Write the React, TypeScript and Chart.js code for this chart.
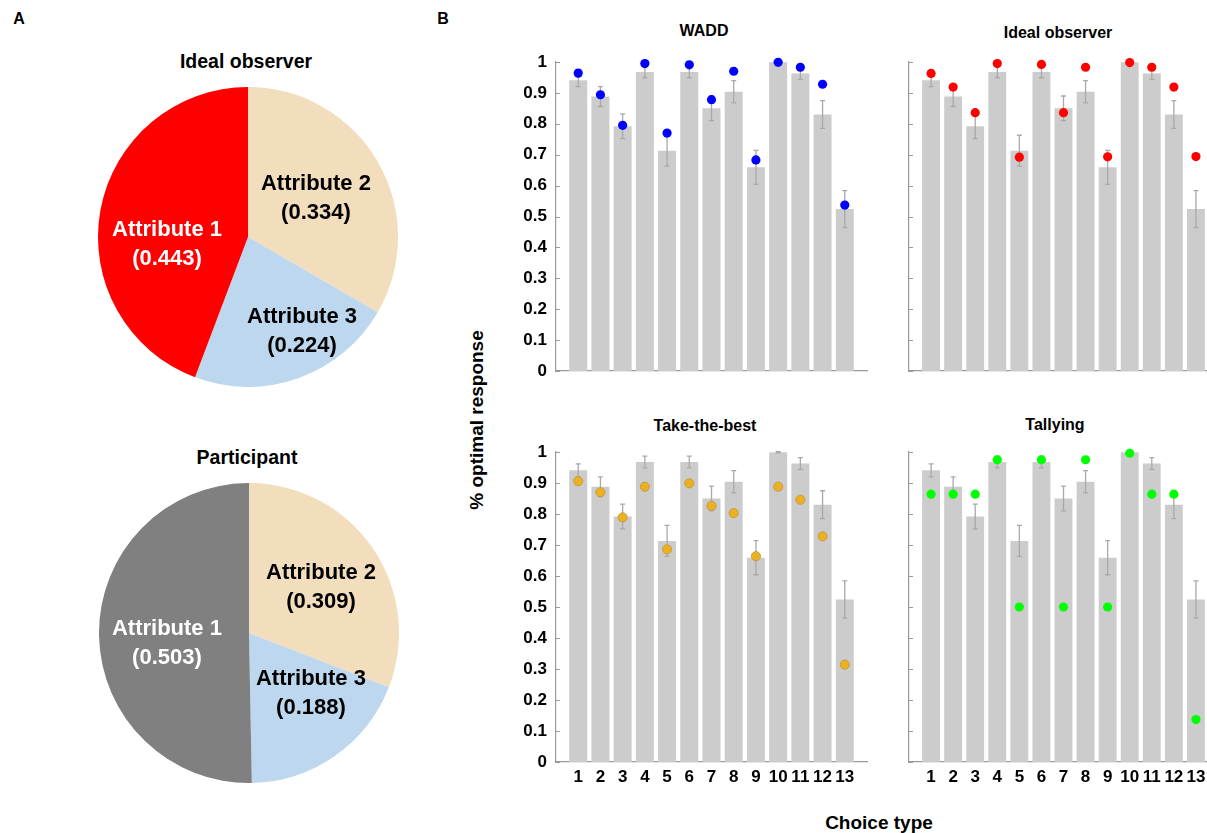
import React, { useEffect, useRef } from 'react';
import { Chart, registerables } from 'chart.js';

Chart.register(...registerables);

const FONT = "'Liberation Sans', Arial, Helvetica, sans-serif";
Chart.defaults.font.family = FONT;

// ---------- data ----------
const CHOICE_TYPES = [1, 2, 3, 4, 5, 6, 7, 8, 9, 10, 11, 12, 13];
const PARTICIPANT_MEAN = [0.941, 0.888, 0.792, 0.968, 0.713, 0.968, 0.85, 0.904, 0.659, 0.999, 0.963, 0.83, 0.524];
const PARTICIPANT_ERR = [0.021, 0.032, 0.04, 0.019, 0.05, 0.019, 0.04, 0.036, 0.055, 0.002, 0.019, 0.045, 0.06];

const WADD = [0.964, 0.894, 0.795, 0.995, 0.77, 0.991, 0.878, 0.97, 0.683, 0.999, 0.983, 0.928, 0.537];
const IDEAL_OBSERVER = [0.963, 0.919, 0.836, 0.995, 0.692, 0.992, 0.836, 0.983, 0.693, 0.998, 0.983, 0.919, 0.694];
const TAKE_THE_BEST = [0.906, 0.87, 0.789, 0.888, 0.686, 0.899, 0.826, 0.803, 0.664, 0.888, 0.846, 0.728, 0.314];
const TALLYING = [0.864, 0.864, 0.864, 0.975, 0.5, 0.975, 0.5, 0.975, 0.5, 0.996, 0.864, 0.864, 0.137];

const PIE_LABELS = ['Attribute 2', 'Attribute 3', 'Attribute 1'];
const IDEAL_WEIGHTS = [0.334, 0.224, 0.443];
const PARTICIPANT_WEIGHTS = [0.309, 0.188, 0.503];

// ---------- styles ----------
const AXIS = '#9a9a9a';
const TAN = '#F2DDBC';
const LIGHT_BLUE = '#BDD7EE';

const errorBarPlugin = {
  id: 'errorBars',
  afterDatasetDraw(chart: any, args: any) {
    if (args.index !== 0) return;
    const ctx = chart.ctx;
    const y = chart.scales.y;
    ctx.save();
    ctx.strokeStyle = '#a9a9a9';
    ctx.lineWidth = 1.3;
    args.meta.data.forEach((bar: any, i: number) => {
      const m = PARTICIPANT_MEAN[i];
      const e = PARTICIPANT_ERR[i];
      const yt = y.getPixelForValue(m + e);
      const yb = y.getPixelForValue(m - e);
      ctx.beginPath();
      ctx.moveTo(bar.x, yt);
      ctx.lineTo(bar.x, yb);
      ctx.moveTo(bar.x - 2.5, yt);
      ctx.lineTo(bar.x + 2.5, yt);
      ctx.moveTo(bar.x - 2.5, yb);
      ctx.lineTo(bar.x + 2.5, yb);
      ctx.stroke();
    });
    ctx.restore();
  },
};

const yTickMarkPlugin = {
  id: 'yTickMarks',
  afterDraw(chart: any) {
    const ctx = chart.ctx;
    const y = chart.scales.y;
    const left = chart.chartArea.left;
    ctx.save();
    ctx.strokeStyle = AXIS;
    ctx.lineWidth = 1;
    y.ticks.forEach((t: any) => {
      const py = Math.round(y.getPixelForValue(t.value)) + 0.5;
      ctx.beginPath();
      ctx.moveTo(left, py);
      ctx.lineTo(left + 4, py);
      ctx.stroke();
    });
    ctx.restore();
  },
};

function Text({ x, y, size, children, rotate, color }: any) {
  return (
    <div
      style={{
        position: 'absolute',
        left: x,
        top: y,
        transform: `translate(-50%, -50%)${rotate ? ` rotate(${rotate}deg)` : ''}`,
        fontFamily: FONT,
        fontWeight: 'bold',
        fontSize: size,
        lineHeight: 1,
        whiteSpace: 'nowrap',
        color: color || '#000',
      }}
    >
      {children}
    </div>
  );
}

function PieChart({ left, top, size, values, colors, textColors, offsets }: any) {
  const ref = useRef<HTMLCanvasElement>(null);
  useEffect(() => {
    const chart = new Chart(ref.current as HTMLCanvasElement, {
      type: 'pie',
      data: {
        labels: PIE_LABELS,
        datasets: [{ data: values, backgroundColor: colors, borderWidth: 0 }],
      },
      options: {
        responsive: false,
        animation: false,
        events: [],
        layout: { padding: 0 },
        plugins: { legend: { display: false }, tooltip: { enabled: false } },
      } as any,
      plugins: [
        {
          id: 'pieLabels',
          afterDatasetsDraw(c: any) {
            const meta = c.getDatasetMeta(0);
            const ctx = c.ctx;
            ctx.save();
            ctx.font = `bold 22px ${FONT}`;
            ctx.textAlign = 'center';
            ctx.textBaseline = 'middle';
            meta.data.forEach((arc: any, i: number) => {
              const cx = arc.x + offsets[i][0] * arc.outerRadius;
              const cy = arc.y + offsets[i][1] * arc.outerRadius;
              ctx.fillStyle = textColors[i];
              ctx.fillText(PIE_LABELS[i], cx, cy - 14);
              ctx.fillText(`(${values[i].toFixed(3)})`, cx, cy + 15);
            });
            ctx.restore();
          },
        },
      ],
    });
    return () => chart.destroy();
  }, []);
  return <canvas ref={ref} width={size} height={size} style={{ position: 'absolute', left, top }} />;
}

function BarPanel({ left, top, width, height, model, color, border, borderWidth, showX, showY, xHeight }: any) {
  const ref = useRef<HTMLCanvasElement>(null);
  useEffect(() => {
    const chart = new Chart(ref.current as HTMLCanvasElement, {
      type: 'bar',
      data: {
        datasets: [
          {
            type: 'bar',
            data: CHOICE_TYPES.map((c, i) => ({ x: c, y: PARTICIPANT_MEAN[i] })),
            backgroundColor: '#cccccc',
            borderWidth: 0,
            barPercentage: 0.81,
            categoryPercentage: 1,
            order: 2,
          },
          {
            type: 'scatter',
            data: CHOICE_TYPES.map((c, i) => ({ x: c, y: model[i] })),
            pointRadius: 4.6,
            pointBackgroundColor: color,
            pointBorderColor: border,
            pointBorderWidth: borderWidth,
            order: 1,
            clip: false,
          },
        ],
      } as any,
      options: {
        responsive: false,
        animation: false,
        events: [],
        layout: { padding: { top: 22, right: 13, left: 0, bottom: 0 } },
        plugins: { legend: { display: false }, tooltip: { enabled: false }, title: { display: false } },
        scales: {
          x: {
            type: 'linear',
            min: 0,
            max: 14,
            offset: false,
            grid: { display: false, drawTicks: false },
            border: { display: true, color: AXIS, width: 1.2 },
            ticks: {
              display: showX,
              stepSize: 1,
              autoSkip: false,
              maxRotation: 0,
              padding: 5,
              color: '#000',
              font: { size: 17, weight: 'bold' },
              callback: (v: number) => (v >= 1 && v <= 13 ? String(v) : ''),
            },
            afterFit: (s: any) => {
              s.height = xHeight;
            },
          },
          y: {
            min: 0,
            max: 1,
            grid: { display: false, drawTicks: false },
            border: { display: true, color: AXIS, width: 1.2 },
            ticks: {
              display: showY,
              stepSize: 0.1,
              padding: 9,
              color: '#000',
              font: { size: 17, weight: 'bold' },
              callback: (v: number) => String(Number(v.toFixed(1))),
            },
            afterFit: (s: any) => {
              s.width = 56;
            },
          },
        },
      } as any,
      plugins: [errorBarPlugin, yTickMarkPlugin],
    });
    return () => chart.destroy();
  }, []);
  return <canvas ref={ref} width={width} height={height} style={{ position: 'absolute', left, top }} />;
}

export default function App() {
  return (
    <div
      style={{
        position: 'absolute',
        left: 0,
        top: 0,
        width: 1207,
        height: 833,
        overflow: 'hidden',
        background: '#fff',
      }}
    >
      <Text x={19} y={19} size={16}>A</Text>
      <Text x={443} y={19} size={16}>B</Text>

      <Text x={246} y={62} size={19.5}>Ideal observer</Text>
      <PieChart
        left={98}
        top={87}
        size={300}
        values={IDEAL_WEIGHTS}
        colors={[TAN, LIGHT_BLUE, '#FF0000']}
        textColors={['#000', '#000', '#fff']}
        offsets={[[0.453, -0.263], [0.36, 0.627], [-0.54, 0.043]]}
      />

      <Text x={247} y={458} size={19.5}>Participant</Text>
      <PieChart
        left={99}
        top={483}
        size={300}
        values={PARTICIPANT_WEIGHTS}
        colors={[TAN, LIGHT_BLUE, '#808080']}
        textColors={['#000', '#000', '#fff']}
        offsets={[[0.48, -0.31], [0.413, 0.4], [-0.547, 0.067]]}
      />

      <Text x={704} y={31} size={16}>WADD</Text>
      <Text x={1058} y={33} size={16}>Ideal observer</Text>
      <Text x={705} y={426} size={16}>Take-the-best</Text>
      <Text x={1055} y={425} size={16}>Tallying</Text>

      <BarPanel left={500} top={40} width={380} height={355} xHeight={24} model={WADD} color="#0000FF" border="#0000FF" borderWidth={0} showX={false} showY={true} />
      <BarPanel left={853} top={40} width={378} height={355} xHeight={24} model={IDEAL_OBSERVER} color="#FF0000" border="#FF0000" borderWidth={0} showX={false} showY={false} />
      <BarPanel left={500} top={430} width={380} height={362} xHeight={30} model={TAKE_THE_BEST} color="#EDB120" border="#B99548" borderWidth={0.8} showX={true} showY={true} />
      <BarPanel left={853} top={430} width={378} height={362} xHeight={30} model={TALLYING} color="#00FF00" border="#00FF00" borderWidth={0} showX={true} showY={false} />

      <Text x={476} y={420} size={19} rotate={-90}>% optimal response</Text>
      <Text x={879} y={822} size={19}>Choice type</Text>
    </div>
  );
}
